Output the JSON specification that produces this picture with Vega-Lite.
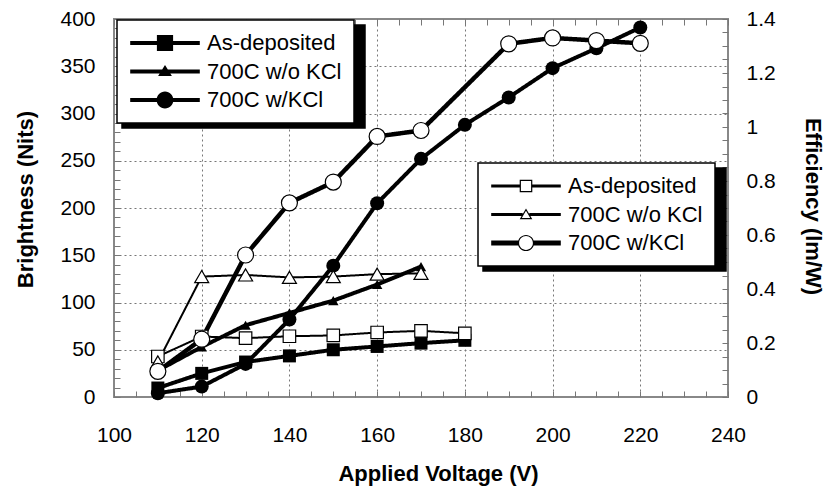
{
  "$schema": "https://vega.github.io/schema/vega-lite/v6.json",
  "width": 614,
  "height": 378,
  "autosize": {"type": "none"},
  "padding": {"left": 114, "top": 19, "right": 97, "bottom": 93},
  "background": "white",
  "datasets": {
    "brightness": [
      {"V": 110, "value": 9.5, "series": "As-deposited"},
      {"V": 120, "value": 25, "series": "As-deposited"},
      {"V": 130, "value": 37, "series": "As-deposited"},
      {"V": 140, "value": 43.5, "series": "As-deposited"},
      {"V": 150, "value": 50, "series": "As-deposited"},
      {"V": 160, "value": 53.5, "series": "As-deposited"},
      {"V": 170, "value": 57, "series": "As-deposited"},
      {"V": 180, "value": 60, "series": "As-deposited"},
      {"V": 110, "value": 28, "series": "700C w/o KCl"},
      {"V": 120, "value": 53, "series": "700C w/o KCl"},
      {"V": 130, "value": 76, "series": "700C w/o KCl"},
      {"V": 140, "value": 89, "series": "700C w/o KCl"},
      {"V": 150, "value": 102, "series": "700C w/o KCl"},
      {"V": 160, "value": 119, "series": "700C w/o KCl"},
      {"V": 170, "value": 138, "series": "700C w/o KCl"},
      {"V": 110, "value": 4, "series": "700C w/KCl"},
      {"V": 120, "value": 11, "series": "700C w/KCl"},
      {"V": 130, "value": 35, "series": "700C w/KCl"},
      {"V": 140, "value": 82, "series": "700C w/KCl"},
      {"V": 150, "value": 139, "series": "700C w/KCl"},
      {"V": 160, "value": 205, "series": "700C w/KCl"},
      {"V": 170, "value": 252, "series": "700C w/KCl"},
      {"V": 180, "value": 288, "series": "700C w/KCl"},
      {"V": 190, "value": 317, "series": "700C w/KCl"},
      {"V": 200, "value": 348, "series": "700C w/KCl"},
      {"V": 210, "value": 369, "series": "700C w/KCl"},
      {"V": 220, "value": 391, "series": "700C w/KCl"}
    ],
    "efficiency": [
      {"V": 110, "value": 0.15, "series": "As-deposited"},
      {"V": 120, "value": 0.224, "series": "As-deposited"},
      {"V": 130, "value": 0.218, "series": "As-deposited"},
      {"V": 140, "value": 0.225, "series": "As-deposited"},
      {"V": 150, "value": 0.228, "series": "As-deposited"},
      {"V": 160, "value": 0.239, "series": "As-deposited"},
      {"V": 170, "value": 0.245, "series": "As-deposited"},
      {"V": 180, "value": 0.236, "series": "As-deposited"},
      {"V": 110, "value": 0.13, "series": "700C w/o KCl"},
      {"V": 120, "value": 0.446, "series": "700C w/o KCl"},
      {"V": 130, "value": 0.452, "series": "700C w/o KCl"},
      {"V": 140, "value": 0.443, "series": "700C w/o KCl"},
      {"V": 150, "value": 0.446, "series": "700C w/o KCl"},
      {"V": 160, "value": 0.455, "series": "700C w/o KCl"},
      {"V": 170, "value": 0.458, "series": "700C w/o KCl"},
      {"V": 110, "value": 0.095, "series": "700C w/KCl"},
      {"V": 120, "value": 0.214, "series": "700C w/KCl"},
      {"V": 130, "value": 0.526, "series": "700C w/KCl"},
      {"V": 140, "value": 0.719, "series": "700C w/KCl"},
      {"V": 150, "value": 0.796, "series": "700C w/KCl"},
      {"V": 160, "value": 0.965, "series": "700C w/KCl"},
      {"V": 170, "value": 0.987, "series": "700C w/KCl"},
      {"V": 190, "value": 1.308, "series": "700C w/KCl"},
      {"V": 200, "value": 1.33, "series": "700C w/KCl"},
      {"V": 210, "value": 1.32, "series": "700C w/KCl"},
      {"V": 220, "value": 1.31, "series": "700C w/KCl"}
    ]
  },
  "layer": [
    {
      "data": {"name": "brightness"},
      "mark": {"type": "line", "strokeWidth": 4, "strokeJoin": "round", "stroke": "black"},
      "encoding": {
        "x": {
          "field": "V", "type": "quantitative",
          "scale": {"domain": [100, 240], "nice": false, "zero": false},
          "axis": {
            "orient": "bottom",
            "values": [100,105,110,115,120,125,130,135,140,145,150,155,160,165,170,175,180,185,190,195,200,205,210,215,220,225,230,235,240],
            "labelExpr": "datum.value % 20 === 0 ? datum.label : ''",
            "grid": true,
            "gridOpacity": {"condition": {"test": "datum.value % 20 === 0 && datum.value > 100 && datum.value < 240", "value": 1}, "value": 0},
            "labelPadding": 33,
            "title": "Applied Voltage (V)",
            "titleX": 324, "titleY": 76, "titleBaseline": "middle", "titleAlign": "center"
          }
        },
        "y": {
          "field": "value", "type": "quantitative",
          "scale": {"domain": [0, 400], "nice": false},
          "axis": {
            "orient": "left",
            "values": [0,10,20,30,40,50,60,70,80,90,100,110,120,130,140,150,160,170,180,190,200,210,220,230,240,250,260,270,280,290,300,310,320,330,340,350,360,370,380,390,400],
            "labelExpr": "datum.value % 50 === 0 ? datum.label : ''",
            "grid": true,
            "gridOpacity": {"condition": {"test": "datum.value % 50 === 0 && datum.value > 0 && datum.value < 400", "value": 1}, "value": 0},
            "labelPadding": 25,
            "title": "Brightness (Nits)",
            "titleX": -89, "titleY": 180, "titleAngle": -90, "titleBaseline": "middle", "titleAlign": "center"
          }
        },
        "strokeDash": {
          "field": "series", "type": "nominal",
          "scale": {"domain": ["As-deposited", "700C w/o KCl", "700C w/KCl"], "range": [[1, 0], [1, 0], [1, 0]]},
          "legend": {
            "orient": "none", "legendX": 8, "legendY": 6, "title": null, "zindex": 1,
            "symbolType": "square", "symbolSize": 484, "symbolStrokeWidth": 0,
            "symbolFillColor": "black", "symbolStrokeColor": "black",
            "labelExpr": "''", "labelOffset": 172,
            "fillColor": "black", "strokeColor": "black"
          }
        }
      }
    },
    {
      "data": {"name": "brightness"},
      "mark": {"type": "point", "filled": true, "fill": "black", "opacity": 1},
      "encoding": {
        "x": {"field": "V", "type": "quantitative", "scale": {"domain": [100, 240], "nice": false, "zero": false}, "axis": null},
        "y": {"field": "value", "type": "quantitative", "scale": {"domain": [0, 400], "nice": false}, "axis": null},
        "shape": {
          "field": "series", "type": "nominal",
          "scale": {"domain": ["As-deposited", "700C w/o KCl", "700C w/KCl"], "range": ["square", "triangle-up", "circle"]},
          "legend": null
        },
        "size": {"condition": [{"test": "datum.series === '700C w/KCl'", "value": 196}, {"test": "datum.series === '700C w/o KCl'", "value": 110}], "value": 169}
      }
    },
    {
      "data": {"name": "efficiency"},
      "mark": {"type": "line", "strokeJoin": "round", "stroke": "black"},
      "encoding": {
        "x": {
          "field": "V", "type": "quantitative",
          "scale": {"domain": [100, 240], "nice": false, "zero": false},
          "axis": {
            "orient": "top",
            "values": [100,105,110,115,120,125,130,135,140,145,150,155,160,165,170,175,180,185,190,195,200,205,210,215,220,225,230,235,240],
            "labels": false, "grid": false, "title": null
          }
        },
        "y": {
          "field": "value", "type": "quantitative",
          "scale": {"domain": [0, 1.4], "nice": false},
          "axis": {
            "orient": "right",
            "values": [0,0.05,0.1,0.15,0.2,0.25,0.3,0.35,0.4,0.45,0.5,0.55,0.6,0.65,0.7,0.75,0.8,0.85,0.9,0.95,1,1.05,1.1,1.15,1.2,1.25,1.3,1.35,1.4],
            "format": "~g",
            "labelExpr": "abs(datum.value*5 - round(datum.value*5)) < 0.001 ? datum.label : ''",
            "grid": false,
            "labelPadding": 24,
            "title": "Efficiency (lm/W)",
            "titleX": 84, "titleY": 187, "titleAngle": 90, "titleBaseline": "middle", "titleAlign": "center"
          }
        },
        "strokeDash": {
          "field": "series", "type": "nominal",
          "scale": {"domain": ["As-deposited", "700C w/o KCl", "700C w/KCl"], "range": [[1, 0], [1, 0], [1, 0]]},
          "legend": {
            "orient": "none", "legendX": 369, "legendY": 149, "title": null, "zindex": 1,
            "symbolType": "square", "symbolSize": 484, "symbolStrokeWidth": 0,
            "symbolFillColor": "black", "symbolStrokeColor": "black",
            "labelExpr": "''", "labelOffset": 172,
            "fillColor": "black", "strokeColor": "black"
          }
        },
        "strokeWidth": {"condition": {"test": "datum.series === '700C w/KCl'", "value": 4.5}, "value": 2}
      }
    },
    {
      "data": {"name": "efficiency"},
      "mark": {"type": "point", "filled": true, "fill": "white", "stroke": "black", "strokeWidth": 1.2, "opacity": 1},
      "encoding": {
        "x": {"field": "V", "type": "quantitative", "scale": {"domain": [100, 240], "nice": false, "zero": false}, "axis": null},
        "y": {"field": "value", "type": "quantitative", "scale": {"domain": [0, 1.4], "nice": false}, "axis": null},
        "shape": {
          "field": "series", "type": "nominal",
          "scale": {"domain": ["As-deposited", "700C w/o KCl", "700C w/KCl"], "range": ["square", "triangle-up", "circle"]},
          "legend": null
        },
        "size": {"condition": [{"test": "datum.series === '700C w/KCl'", "value": 256}, {"test": "datum.series === '700C w/o KCl'", "value": 196}], "value": 156}
      }
    },
    {
      "data": {"name": "brightness"},
      "transform": [{"filter": "false"}],
      "mark": {"type": "point", "filled": true, "fill": "black", "strokeWidth": 0},
      "encoding": {
        "x": {"field": "V", "type": "quantitative", "scale": {"domain": [100, 240], "nice": false, "zero": false}, "axis": null},
        "y": {"field": "value", "type": "quantitative", "scale": {"domain": [0, 400], "nice": false}, "axis": null},
        "shape": {
          "field": "series", "type": "nominal",
          "scale": {
            "domain": ["As-deposited", "700C w/o KCl", "700C w/KCl"],
            "range": [
              "M-5.8,-0.35H5.8V0.35H-5.8Z M-1.35,-1.35H1.35V1.35H-1.35Z",
              "M-5.8,-0.35H5.8V0.35H-5.8Z M0,-1.1L1.15,0.75H-1.15Z",
              "M-5.8,-0.35H5.8V0.35H-5.8Z M-1.4,0A1.4,1.4,0,1,1,1.4,0A1.4,1.4,0,1,1,-1.4,0Z"
            ]
          },
          "legend": {
            "orient": "none", "legendX": 3, "legendY": 1, "title": null, "zindex": 2,
            "symbolSize": 144, "symbolStrokeWidth": 0, "symbolOpacity": 1,
            "symbolFillColor": "black", "symbolStrokeColor": "transparent",
            "fillColor": "white", "strokeColor": "black"
          }
        }
      }
    },
    {
      "data": {"name": "efficiency"},
      "transform": [{"filter": "false"}],
      "mark": {"type": "point", "filled": true, "fill": "black", "strokeWidth": 0},
      "encoding": {
        "x": {"field": "V", "type": "quantitative", "scale": {"domain": [100, 240], "nice": false, "zero": false}, "axis": null},
        "y": {"field": "value", "type": "quantitative", "scale": {"domain": [0, 1.4], "nice": false}, "axis": null},
        "shape": {
          "field": "series", "type": "nominal",
          "scale": {
            "domain": ["As-deposited", "700C w/o KCl", "700C w/KCl"],
            "range": [
              "M-5.8,-0.25H-1.05V0.25H-5.8Z M1.05,-0.25H5.8V0.25H1.05Z M-1.05,-1.05H1.05V1.05H-1.05Z M-0.85,-0.85V0.85H0.85V-0.85Z",
              "M-5.8,-0.25H-0.55V0.25H-5.8Z M0.55,-0.25H5.8V0.25H0.55Z M0,-1L1.05,0.8H-1.05Z M0,-0.62L-0.7,0.6H0.7Z",
              "M-5.8,-0.42H-1.28V0.42H-5.8Z M1.28,-0.42H5.8V0.42H1.28Z M-1.35,0A1.35,1.35,0,1,1,1.35,0A1.35,1.35,0,1,1,-1.35,0Z M-1.15,0A1.15,1.15,0,1,0,1.15,0A1.15,1.15,0,1,0,-1.15,0Z"
            ]
          },
          "legend": {
            "orient": "none", "legendX": 364, "legendY": 144, "title": null, "zindex": 2,
            "symbolSize": 144, "symbolStrokeWidth": 0, "symbolOpacity": 1,
            "symbolFillColor": "black", "symbolStrokeColor": "transparent",
            "fillColor": "white", "strokeColor": "black"
          }
        }
      }
    }
  ],
  "resolve": {
    "scale": {"y": "independent", "shape": "independent", "strokeDash": "independent"},
    "axis": {"x": "independent", "y": "independent"},
    "legend": {"strokeDash": "independent", "shape": "independent"}
  },
  "config": {
    "font": "Liberation Sans",
    "view": {"stroke": "#888", "strokeWidth": 2},
    "axis": {
      "labelFont": "Liberation Sans", "labelFontSize": 21, "labelColor": "black",
      "titleFont": "Liberation Sans", "titleFontSize": 22, "titleFontWeight": "bold", "titleColor": "black",
      "domain": false, "ticks": true, "tickColor": "#777", "tickWidth": 1, "tickSize": -6,
      "labelOverlap": false, "labelFlush": false, "labelBound": false,
      "gridColor": "#777", "gridDash": [2, 3], "gridWidth": 1
    },
    "legend": {
      "labelFont": "Liberation Sans", "labelFontSize": 22, "labelColor": "black",
      "padding": 12, "rowPadding": 6.5, "symbolSize": 144, "symbolStrokeWidth": 0,
      "symbolOffset": 25, "labelOffset": 31, "labelLimit": 300,
      "labelExpr": "datum.label + ' '", "strokeWidth": 1.5
    }
  }
}
